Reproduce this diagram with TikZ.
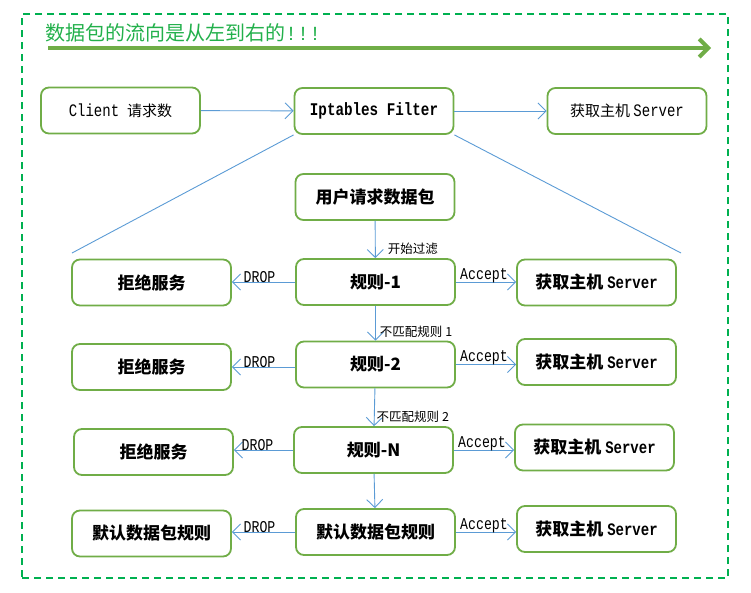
\documentclass[tikz,border=0pt]{standalone}
\usepackage{fontspec}
\setmainfont{Noto Sans CJK SC}
\newfontfamily\cjk{Noto Sans CJK SC}
\newfontfamily\mono{Liberation Mono}
\newfontfamily\monon[FakeStretch=0.8]{Liberation Mono}
\usetikzlibrary{arrows.meta,backgrounds}
\definecolor{boxgreen}{HTML}{70AD47}
\definecolor{dashgreen}{HTML}{00B050}
\definecolor{titlegreen}{HTML}{22B04B}
\definecolor{arrowblue}{HTML}{5B9BD5}
\tikzset{
  box/.style={draw=boxgreen, line width=1.8pt, rounded corners=8pt, fill=white,
    minimum width=159pt, minimum height=46pt, inner sep=0pt, align=center},
  rowtext/.style={font=\fontsize{17}{20}\selectfont\bfseries},
  toptext/.style={font=\fontsize{15}{18}\selectfont},
  arr/.style={draw=arrowblue, line width=0.9pt, -{Straight Barb[length=8pt,width=16pt,line width=0.9pt]}},
  lbl/.style={font=\fontsize{16.5}{18}\selectfont\monon, inner sep=0pt, text=black},
  clbl/.style={font=\fontsize{12.5}{15}\selectfont, inner sep=0pt, text=black},
}
\newcommand{\Srv}{{\monon\fontsize{17.5}{20}\selectfont Server}}
\newcommand{\SrvB}{{\monon\fontsize{17.5}{20}\selectfont\bfseries Server}}
\begin{document}
\begin{tikzpicture}[x=1pt,y=-1pt]
\useasboundingbox (0,0) rectangle (751,592);
% outer dashed frame
\node[draw=dashgreen, line width=2pt, dash pattern=on 7pt off 5pt, minimum width=706pt, minimum height=564pt, inner sep=0pt] (frame) at (375,296) {};
% title
\node[anchor=west, text=titlegreen, font=\fontsize{20}{24}\selectfont, inner sep=0pt] (title) at (45,33) {数据包的流向是从左到右的{\mono!!!}};
\coordinate (ta) at (48,48);
\coordinate (tb) at (711,48);
\draw[draw=boxgreen, line width=4pt, -{Straight Barb[length=9pt,width=18pt,line width=4pt]}] (ta) -- (tb);

% top row
\node[box, toptext] (client) at (120.5,110.5) {{\monon\fontsize{17.5}{20}\selectfont Client}\hspace{8pt}请求数};
\node[box, font=\fontsize{17.8}{20}\selectfont\monon\bfseries] (ipt) at (374,111) {Iptables Filter};
\node[box, toptext] (srv0) at (627,111) {获取主机 \Srv};

% flow
\node[box, rowtext] (pkt) at (375,197) {用户请求数据包};
\node[box, rowtext] (r1) at (375.5,282) {规则-1};
\node[box, rowtext] (d1) at (151.5,282.5) {拒绝服务};
\node[box, rowtext] (s1) at (596.5,282.5) {获取主机 \SrvB};
\node[box, rowtext] (r2) at (375.5,364.5) {规则-2};
\node[box, rowtext] (d2) at (151.5,367) {拒绝服务};
\node[box, rowtext] (s2) at (596.5,362) {获取主机 \SrvB};
\node[box, rowtext] (rN) at (373.5,450) {规则-N};
\node[box, rowtext] (d3) at (153.5,452) {拒绝服务};
\node[box, rowtext] (s3) at (594.5,447.5) {获取主机 \SrvB};
\node[box, rowtext] (r4) at (375.5,532) {默认数据包规则};
\node[box, rowtext] (d4) at (151.5,533.5) {默认数据包规则};
\node[box, rowtext] (s4) at (596.5,529) {获取主机 \SrvB};

\coordinate (la) at (72,253);
\coordinate (lb) at (681,253);
\begin{scope}[on background layer]
\draw[draw=arrowblue, line width=0.9pt] (ipt.south west) -- (la);
\draw[draw=arrowblue, line width=0.9pt] (ipt.south east) -- (lb);
\end{scope}

\draw[arr] (client) -- (ipt);
\draw[arr] (ipt) -- (srv0);

\draw[arr] (pkt) -- node[clbl, pos=0.75, anchor=west, xshift=12pt]{开始过滤} (r1);
\draw[arr] (r1) -- node[clbl, pos=0.74, anchor=west, xshift=4pt]{不匹配规则 1} (r2);
\draw[arr] (r2) -- node[clbl, pos=0.74, anchor=west, xshift=2pt]{不匹配规则 2} (rN);
\draw[arr] (rN) -- (r4);

\draw[arr] (r1.west) -- node[lbl, above, yshift=-1pt, xshift=-4pt]{DROP} (d1.east |- r1.west);
\draw[arr] (r2.west |- d2.east) -- node[lbl, above, yshift=-1pt, xshift=-4pt]{DROP} (d2.east);
\draw[arr] (rN.west) -- node[lbl, above, yshift=-1pt, xshift=-6pt]{DROP} (d3.east |- rN.west);
\draw[arr] (r4.west) -- node[lbl, above, yshift=-1pt, xshift=-4pt]{DROP} (d4.east |- r4.west);

\draw[arr] (r1.east) -- node[lbl, above, yshift=-1pt, xshift=-2pt]{Accept} (s1.west |- r1.east);
\draw[arr] (r2.east) -- node[lbl, above, yshift=-1pt, xshift=-2pt]{Accept} (s2.west |- r2.east);
\draw[arr] (rN.east) -- node[lbl, above, yshift=-1pt, xshift=-2pt]{Accept} (s3.west |- rN.east);
\draw[arr] (r4.east) -- node[lbl, above, yshift=-1pt, xshift=-2pt]{Accept} (s4.west |- r4.east);
\end{tikzpicture}
\end{document}
